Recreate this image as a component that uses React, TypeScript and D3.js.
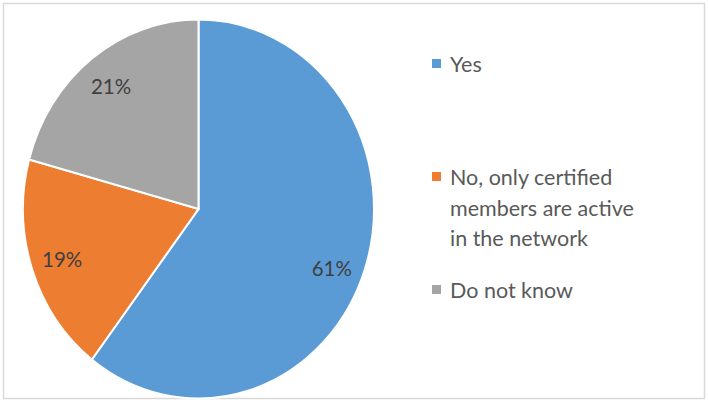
import { useEffect, useRef } from 'react';
import * as d3 from 'd3';

const categories = ['Yes', 'No, only certified members are active in the network', 'Do not know'];
const values = [61, 19, 21];
const legendLines = [['Yes'], ['No, only certified', 'members are active', 'in the network'], ['Do not know']];
const colors = ['#5b9bd5', '#ed7d31', '#a5a5a5'];

export default function App() {
  const svgRef = useRef<SVGSVGElement>(null);

  useEffect(() => {
    if (!svgRef.current) return;
    const width = 708;
    const height = 403;
    const svg = d3.select(svgRef.current);
    svg.selectAll('*').remove();
    svg.attr('width', width).attr('height', height);

    // chart frame
    svg
      .append('rect')
      .attr('x', 3.5)
      .attr('y', 3.5)
      .attr('width', 701)
      .attr('height', 395)
      .attr('fill', '#fff')
      .attr('stroke', '#d9d9d9')
      .attr('stroke-width', 1.5);

    // the pie in the source is slightly squashed horizontally
    const cx = 198.5;
    const cy = 209;
    const ry = 189.5;
    const rx = 175.5;

    const data = categories.map((c, i) => ({ name: c, value: values[i], color: colors[i] }));
    const pie = d3
      .pie<{ name: string; value: number; color: string }>()
      .sort(null)
      .value((d) => d.value);
    const arcs = pie(data);
    const arc = d3.arc<d3.PieArcDatum<{ name: string; value: number; color: string }>>().innerRadius(0).outerRadius(ry);

    const g = svg.append('g').attr('transform', `translate(${cx},${cy}) scale(${rx / ry},1)`);
    g.selectAll('path')
      .data(arcs)
      .join('path')
      .attr('d', arc)
      .attr('fill', (d) => d.data.color)
      .attr('stroke', '#fff')
      .attr('stroke-width', 2)
      .attr('vector-effect', 'non-scaling-stroke');

    // percentage labels
    const labelR = 0.82;
    arcs.forEach((d, i) => {
      // Excel nudged the big slice's label a little further round
      const a = (d.startAngle + d.endAngle) / 2 + (i === 0 ? 0.06 : 0);
      const x = cx + Math.sin(a) * labelR * rx;
      const y = cy - Math.cos(a) * labelR * ry;
      svg
        .append('text')
        .attr('x', x)
        .attr('y', y)
        .attr('text-anchor', 'middle')
        .attr('dominant-baseline', 'central')
        .attr('font-family', 'Lato, "Open Sans", sans-serif')
        .attr('font-size', 20.5)
        .attr('fill', '#404040')
        .text(`${d.data.value}%`);
    });

    // legend
    const legendX = 432;
    const legendTops = [72, 185, 298];
    const lineH = 30.5;
    legendLines.forEach((lines, i) => {
      const base = legendTops[i];
      svg
        .append('rect')
        .attr('x', legendX)
        .attr('y', base - 13)
        .attr('width', 9)
        .attr('height', 9)
        .attr('fill', colors[i]);
      lines.forEach((line, j) => {
        svg
          .append('text')
          .attr('x', legendX + 18)
          .attr('y', base + j * lineH)
          .attr('font-family', 'Lato, "Open Sans", sans-serif')
          .attr('font-size', 21.5)
          .attr('fill', '#595959')
          .text(line);
      });
    });
  }, []);

  return (
    <div style={{ position: 'fixed', left: 0, top: 0, background: '#fff' }}>
      <svg ref={svgRef} style={{ display: 'block' }} />
    </div>
  );
}
